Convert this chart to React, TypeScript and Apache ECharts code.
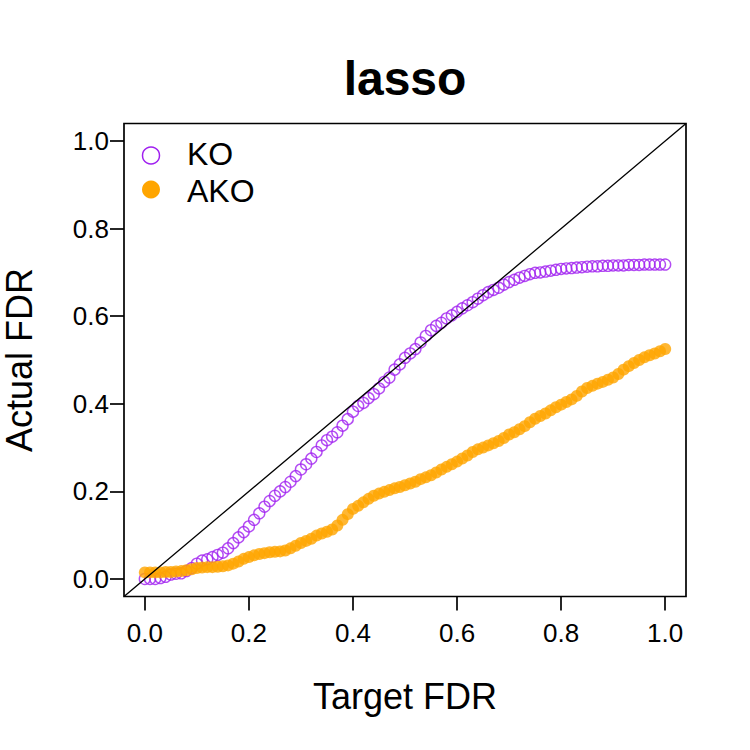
import React, { useEffect, useRef } from "react";
import * as echarts from "echarts";

// Target FDR grid: 0.00, 0.01, ..., 1.00
const targetFdr: number[] = Array.from({ length: 101 }, (_, i) => i / 100);

// Actual FDR for the knockoff (KO) procedure
const koFdr: number[] = [
  0.0, 0.0, 0.0, 0.002, 0.005, 0.01, 0.012, 0.013, 0.018, 0.025,
  0.035, 0.042, 0.045, 0.05, 0.055, 0.06, 0.07, 0.082, 0.095, 0.107,
  0.12, 0.135, 0.15, 0.165, 0.178, 0.19, 0.2, 0.21, 0.222, 0.235,
  0.25, 0.262, 0.275, 0.29, 0.305, 0.317, 0.325, 0.335, 0.35, 0.365,
  0.382, 0.395, 0.402, 0.413, 0.422, 0.435, 0.45, 0.46, 0.478, 0.49,
  0.505, 0.515, 0.525, 0.54, 0.555, 0.568, 0.578, 0.585, 0.595, 0.602,
  0.61, 0.618, 0.625, 0.632, 0.64, 0.648, 0.655, 0.66, 0.665, 0.672,
  0.678, 0.683, 0.688, 0.692, 0.696, 0.699, 0.7, 0.702, 0.704, 0.706,
  0.708, 0.709, 0.71, 0.711, 0.712, 0.713, 0.714, 0.714, 0.715, 0.715,
  0.716, 0.716, 0.716, 0.717, 0.717, 0.717, 0.718, 0.718, 0.718, 0.718,
  0.718,
];

// Actual FDR for the aggregated knockoff (AKO) procedure
const akoFdr: number[] = [
  0.015, 0.015, 0.015, 0.015, 0.016, 0.016, 0.017, 0.018, 0.02, 0.022,
  0.025, 0.026, 0.027, 0.027, 0.028, 0.029, 0.031, 0.035, 0.04, 0.046,
  0.05, 0.054, 0.057, 0.059, 0.061, 0.062, 0.063, 0.065, 0.07, 0.076,
  0.082, 0.087, 0.092, 0.099, 0.104, 0.108, 0.113, 0.122, 0.135, 0.148,
  0.16, 0.167, 0.175, 0.183, 0.19, 0.195, 0.199, 0.203, 0.207, 0.21,
  0.214, 0.218, 0.222, 0.228, 0.232, 0.237, 0.243, 0.25, 0.256, 0.262,
  0.268, 0.275, 0.282, 0.29, 0.296, 0.3, 0.305, 0.31, 0.315, 0.322,
  0.33, 0.335, 0.342, 0.349, 0.358, 0.366, 0.372, 0.378, 0.385, 0.392,
  0.398, 0.404, 0.41, 0.418, 0.428, 0.436, 0.441, 0.446, 0.45, 0.455,
  0.46, 0.468, 0.478, 0.486, 0.493, 0.5, 0.506, 0.511, 0.515, 0.52,
  0.525,
];

const tickValues: number[] = [0, 0.2, 0.4, 0.6, 0.8, 1.0];
const axisRange: [number, number] = [-0.04, 1.04];
const seriesNames: string[] = ["KO", "AKO"];

const FONT = "'Liberation Sans', Arial, Helvetica, sans-serif";
const PURPLE = "#A020F0";
const ORANGE = "#FFA500";

export default function App() {
  const ref = useRef<HTMLDivElement>(null);

  useEffect(() => {
    if (!ref.current) return;
    const chart = echarts.init(ref.current, null, { renderer: "svg" });

    const gridLeft = 124;
    const gridTop = 123.5;
    const gridWidth = 562;
    const gridHeight = 473;

    const axisCommon = {
      type: "value" as const,
      min: axisRange[0],
      max: axisRange[1],
      splitLine: { show: false },
      axisLine: { show: false, onZero: false },
      axisTick: {
        show: true,
        inside: false,
        length: 14,
        customValues: tickValues,
        lineStyle: { color: "#000", width: 1.7 },
      },
    };

    const tickLabel = (margin: number) => ({
      customValues: tickValues,
      formatter: (v: number) => v.toFixed(1),
      fontFamily: FONT,
      fontSize: 26,
      color: "#000",
      margin,
    });

    const legendText = (text: string, y: number) => ({
      type: "text",
      x: 187,
      y,
      style: {
        text,
        fontFamily: FONT,
        fontSize: 32,
        lineHeight: 32,
        fill: "#000",
        align: "left",
        verticalAlign: "middle",
      },
    });

    chart.setOption({
      animation: false,
      backgroundColor: "#fff",
      grid: {
        left: gridLeft,
        top: gridTop,
        width: gridWidth,
        height: gridHeight,
        show: true,
        borderColor: "#000",
        borderWidth: 1.7,
        backgroundColor: "transparent",
      },
      xAxis: { ...axisCommon, position: "bottom", axisLabel: tickLabel(23) },
      yAxis: { ...axisCommon, position: "left", axisLabel: tickLabel(15) },
      series: [
        {
          name: seriesNames[0],
          type: "scatter",
          symbol: "circle",
          symbolSize: 11,
          data: targetFdr.map((x, i) => [x, koFdr[i]]),
          itemStyle: {
            color: "rgba(0,0,0,0)",
            borderColor: PURPLE,
            borderWidth: 1.4,
          },
          z: 2,
        },
        {
          name: seriesNames[1],
          type: "scatter",
          symbol: "circle",
          symbolSize: 12,
          data: targetFdr.map((x, i) => [x, akoFdr[i]]),
          itemStyle: { color: ORANGE },
          z: 3,
        },
        {
          name: "diagonal",
          type: "line",
          data: [
            [axisRange[0], axisRange[0]],
            [axisRange[1], axisRange[1]],
          ],
          symbol: "none",
          lineStyle: { color: "#000", width: 1.3 },
          silent: true,
          z: 4,
        },
      ],
      graphic: [
        {
          type: "text",
          x: gridLeft + gridWidth / 2,
          y: 78,
          style: {
            text: "lasso",
            fontFamily: FONT,
            fontSize: 48,
            fontWeight: "bold",
            fill: "#000",
            align: "center",
            verticalAlign: "middle",
          },
        },
        {
          type: "text",
          x: gridLeft + gridWidth / 2,
          y: 696,
          style: {
            text: "Target FDR",
            fontFamily: FONT,
            fontSize: 36,
            fill: "#000",
            align: "center",
            verticalAlign: "middle",
          },
        },
        {
          type: "text",
          x: 19,
          y: gridTop + gridHeight / 2,
          rotation: Math.PI / 2,
          style: {
            text: "Actual FDR",
            fontFamily: FONT,
            fontSize: 36,
            lineHeight: 34,
            fill: "#000",
            align: "center",
            verticalAlign: "middle",
          },
        },
        {
          type: "circle",
          shape: { cx: 151, cy: 155.5, r: 8.5 },
          style: { fill: "none", stroke: PURPLE, lineWidth: 1.5 },
        },
        {
          type: "circle",
          shape: { cx: 151, cy: 189.5, r: 9 },
          style: { fill: ORANGE },
        },
        legendText(seriesNames[0], 154),
        legendText(seriesNames[1], 191),
      ],
    });

    return () => chart.dispose();
  }, []);

  return (
    <div
      ref={ref}
      style={{ position: "fixed", left: 0, top: 0, width: 750, height: 750, background: "#fff" }}
    />
  );
}
